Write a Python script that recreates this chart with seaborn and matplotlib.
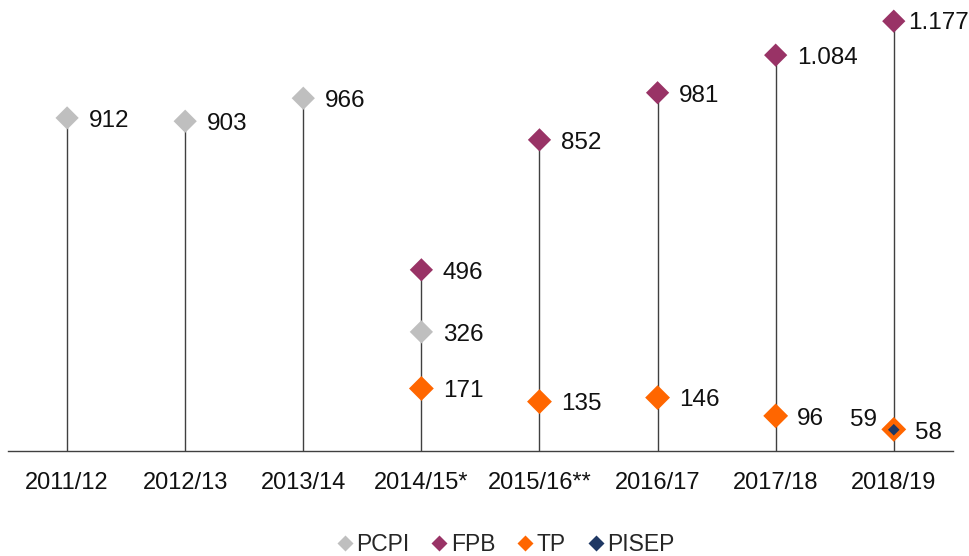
import numpy as np
import pandas as pd
import matplotlib
matplotlib.use("Agg")
import matplotlib.pyplot as plt
import seaborn as sns
from matplotlib.lines import Line2D

categories = ["2011/12", "2012/13", "2013/14", "2014/15*", "2015/16**", "2016/17", "2017/18", "2018/19"]
pcpi = [912, 903, 966, 326, np.nan, np.nan, np.nan, np.nan]
fpb = [np.nan, np.nan, np.nan, 496, 852, 981, 1084, 1177]
tp = [np.nan, np.nan, np.nan, 171, 135, 146, 96, 59]
pisep = [np.nan, np.nan, np.nan, np.nan, np.nan, np.nan, np.nan, 58]

series = {"PCPI": pcpi, "FPB": fpb, "TP": tp, "PISEP": pisep}
colors = {"PCPI": "#BFBFBF", "FPB": "#993366", "TP": "#FF6600", "PISEP": "#1F3864"}
sizes = {"PCPI": 140, "FPB": 140, "TP": 160, "PISEP": 35}

rows = []
for name, vals in series.items():
    for c, v in zip(categories, vals):
        if not np.isnan(v):
            rows.append({"cat": c, "series": name, "value": v})
df = pd.DataFrame(rows)
df["x"] = df["cat"].map({c: i for i, c in enumerate(categories)})

sns.set_theme(style="white")
plt.rcParams["font.family"] = ["Liberation Sans", "DejaVu Sans"]

fig = plt.figure(figsize=(9.69, 5.56), dpi=100)
ax = fig.add_axes([0.0083, 0.189, 0.975, 0.811])

# stems
stem = df.groupby("x")["value"].max()
ax.vlines(stem.index, 0, stem.values, color="#404040", linewidth=1.0, zorder=1)

for name in series:
    sub = df[df["series"] == name]
    sns.scatterplot(data=sub, x="x", y="value", marker="D", s=sizes[name],
                    color=colors[name], edgecolor="none", ax=ax, zorder=3, legend=False)

def fmt(v):
    return f"{int(v):,}".replace(",", ".")

for _, r in df.iterrows():
    if r["series"] == "TP" and r["cat"] == "2018/19":
        ax.annotate(fmt(r["value"]), (r["x"], r["value"]), xytext=(-12, 7),
                    textcoords="offset points", ha="right", va="center", fontsize=17.5, color="#111111")
    elif r["series"] == "FPB" and r["cat"] == "2018/19":
        ax.annotate(fmt(r["value"]), (r["x"], r["value"]), xytext=(10, -1),
                    textcoords="offset points", ha="left", va="center", fontsize=17.5, color="#111111")
    else:
        ax.annotate(fmt(r["value"]), (r["x"], r["value"]), xytext=(15.5, -2),
                    textcoords="offset points", ha="left", va="center", fontsize=17.5, color="#111111")

ax.set_xlim(-0.5, 7.5)
ax.set_ylim(0, 1235)
ax.set_xticks(range(len(categories)))
ax.set_xticklabels(categories, fontsize=17, color="#111111")
ax.tick_params(axis="x", length=0, pad=15)
ax.set_yticks([])
ax.set_xlabel("")
ax.set_ylabel("")
for s in ["top", "right", "left"]:
    ax.spines[s].set_visible(False)
ax.spines["bottom"].set_color("#404040")
ax.spines["bottom"].set_linewidth(1.0)

handles = [Line2D([0], [0], marker="D", linestyle="none", markersize=8,
                  markerfacecolor=colors[n], markeredgecolor="none", label=n) for n in series]
fig.legend(handles=handles, loc="center", bbox_to_anchor=(0.52, 0.02), ncol=4,
           frameon=False, fontsize=16.5, handletextpad=0.0, columnspacing=0.8, handlelength=1.0,
           borderpad=0.0)

fig.savefig("out.png", dpi=100)
